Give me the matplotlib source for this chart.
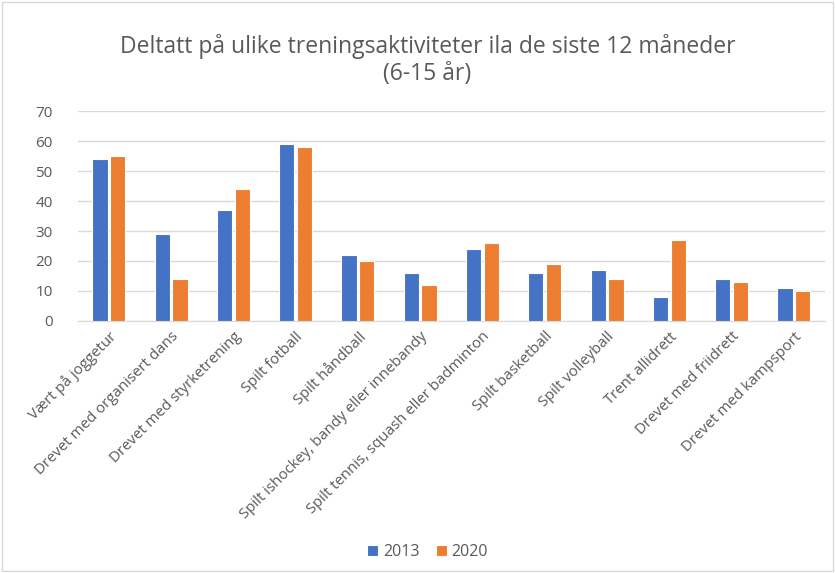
import matplotlib
matplotlib.use("Agg")
import matplotlib.pyplot as plt
import numpy as np
from matplotlib.patches import Rectangle

categories = ["Vært på joggetur", "Drevet med organisert dans", "Drevet med styrketrening",
              "Spilt fotball", "Spilt håndball", "Spilt ishockey, bandy eller innebandy",
              "Spilt tennis, squash eller badminton", "Spilt basketball", "Spilt volleyball",
              "Trent allidrett", "Drevet med friidrett", "Drevet med kampsport"]
v2013 = [54, 29, 37, 59, 22, 16, 24, 16, 17, 8, 14, 11]
v2020 = [55, 14, 44, 58, 20, 12, 26, 19, 14, 27, 13, 10]
yticks = [0, 10, 20, 30, 40, 50, 60, 70]

plt.rcParams['font.family'] = ['Open Sans', 'DejaVu Sans']
fig = plt.figure(figsize=(8.35, 5.73), dpi=100)
ax = fig.add_axes([0.093, 0.440, 0.895, 0.366])

x = np.arange(len(categories))
w = 0.245
blue = "#4472C4"
orange = "#ED7D31"
ax.bar(x - w/2 - 0.02, v2013, w, color=blue, edgecolor="white", linewidth=0.8, label="2013", zorder=3)
ax.bar(x + w/2 + 0.02, v2020, w, color=orange, edgecolor="white", linewidth=0.8, label="2020", zorder=3)

ax.set_xlim(-0.5, len(categories) - 0.5)
ax.set_ylim(0, 70)
ax.set_yticks(yticks)
ax.yaxis.grid(True, color="#D9D9D9", linewidth=1.0, zorder=0)
for s in ["top", "right", "left"]:
    ax.spines[s].set_visible(False)
ax.spines["bottom"].set_color("#D9D9D9")
ax.tick_params(axis="both", length=0, colors="#595959", labelsize=11)
ax.tick_params(axis="y", pad=18)
ax.tick_params(axis="x", pad=6)
ax.set_xticks(x)
ax.set_xticklabels(categories, rotation=45, ha="right", rotation_mode="anchor", fontsize=10.8, color="#595959")

fig.text(0.512, 0.895, "Deltatt på ulike treningsaktiviteter ila de siste 12 måneder\n(6-15 år)",
         ha="center", va="center", fontsize=16.5, color="#595959", linespacing=1.2)

fig.legend(loc="center", bbox_to_anchor=(0.512, 0.037), ncol=2, frameon=False,
           fontsize=11.5, labelcolor="#595959", handlelength=0.7, handleheight=0.7,
           columnspacing=1.0, handletextpad=0.3)

fig.patches.append(Rectangle((0.002, 0.003), 0.996, 0.994, transform=fig.transFigure,
                             fill=False, edgecolor="#D9D9D9", linewidth=1))
fig.savefig("out.png", dpi=100)
